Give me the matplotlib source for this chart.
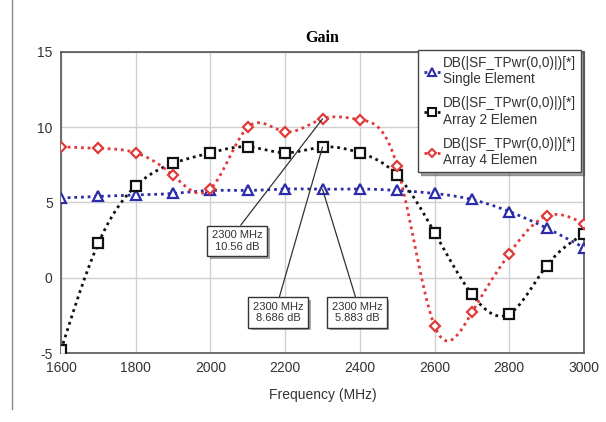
import numpy as np
import matplotlib
matplotlib.use("Agg")
import matplotlib.pyplot as plt
from matplotlib.lines import Line2D
import matplotlib.patheffects as pe

# --- data ---
freq = [1600, 1700, 1800, 1900, 2000, 2100, 2200, 2300, 2400, 2500, 2600, 2700, 2800, 2900, 3000]
single = [5.3, 5.4, 5.5, 5.6, 5.8, 5.8, 5.9, 5.883, 5.9, 5.8, 5.6, 5.2, 4.4, 3.3, 2.0]
array2 = [-4.8, 2.3, 6.1, 7.6, 8.3, 8.7, 8.3, 8.686, 8.3, 6.8, 3.0, -1.1, -2.4, 0.8, 2.9]
array4 = [8.7, 8.6, 8.3, 6.8, 5.9, 10.0, 9.7, 10.56, 10.5, 7.4, -3.2, -2.3, 1.6, 4.1, 3.6]
labels = ["DB(|SF_TPwr(0,0)|)[*]\nSingle Element",
          "DB(|SF_TPwr(0,0)|)[*]\nArray 2 Elemen",
          "DB(|SF_TPwr(0,0)|)[*]\nArray 4 Elemen"]
xticks = [1600, 1800, 2000, 2200, 2400, 2600, 2800, 3000]
yticks = [-5, 0, 5, 10, 15]


def spline(x, y, n=400):
    # natural cubic spline, just for drawing the smooth trace
    x = np.asarray(x, float)
    y = np.asarray(y, float)
    h = np.diff(x)
    m = len(x)
    A = np.zeros((m, m))
    b = np.zeros(m)
    A[0, 0] = A[-1, -1] = 1
    for i in range(1, m - 1):
        A[i, i - 1] = h[i - 1]
        A[i, i] = 2 * (h[i - 1] + h[i])
        A[i, i + 1] = h[i]
        b[i] = 6 * ((y[i + 1] - y[i]) / h[i] - (y[i] - y[i - 1]) / h[i - 1])
    M = np.linalg.solve(A, b)
    xs = np.linspace(x[0], x[-1], n)
    k = np.clip(np.searchsorted(x, xs) - 1, 0, m - 2)
    t1 = x[k + 1] - xs
    t0 = xs - x[k]
    hk = h[k]
    ys = (M[k] * t1 ** 3 + M[k + 1] * t0 ** 3) / (6 * hk) \
        + (y[k] / hk - M[k] * hk / 6) * t1 + (y[k + 1] / hk - M[k + 1] * hk / 6) * t0
    return xs, ys


plt.rcParams['font.family'] = ['Liberation Sans', 'DejaVu Sans']
plt.rcParams['axes.unicode_minus'] = False

fig = plt.figure(figsize=(6.06, 4.22), dpi=100)
ax = fig.add_axes([0.1007, 0.1635, 0.863, 0.7133])

styles = [
    dict(color='#2c2ca8', marker='^', ms=6.5),
    dict(color='#111111', marker='s', ms=7),
    dict(color='#e03a3a', marker='D', ms=5.5),
]

handles = []
for ys_, st, lab in zip([single, array2, array4], styles, labels):
    sx, sy = spline(freq, ys_)
    ax.plot(sx, sy, ls=(0, (1.0, 1.4)), lw=2, color=st['color'], zorder=3)
    ax.plot(freq, ys_, ls='none', marker=st['marker'], ms=st['ms'], mfc='white',
            mec=st['color'], mew=1.6, zorder=4)
    handles.append(Line2D([], [], ls=(0, (1.0, 1.4)), lw=2, color=st['color'],
                          marker=st['marker'], ms=st['ms'] - 1, mfc='white',
                          mec=st['color'], mew=1.5, label=lab))

ax.set_xlim(1600, 3000)
ax.set_ylim(-5, 15)
ax.set_xticks(xticks)
ax.set_yticks(yticks)
ax.tick_params(length=0, labelsize=10, pad=6, labelcolor='#333333')
ax.grid(True, color='#d0d0d0', lw=1)
ax.set_axisbelow(True)
for s in ax.spines.values():
    s.set_color('#555555')
    s.set_linewidth(1.2)

ax.set_title("Gain", family='Liberation Serif', weight='bold', fontsize=11.5, pad=7)
ax.set_xlabel("Frequency (MHz)", fontsize=10, labelpad=9, color='#333333')

leg = ax.legend(handles=handles, loc='upper right', bbox_to_anchor=(0.995, 1.005),
                fontsize=9.8, frameon=True, fancybox=False, shadow=True,
                handlelength=1.2, handletextpad=0.2, borderpad=0.4,
                labelspacing=0.75, borderaxespad=0)
leg.get_frame().set_edgecolor('#444444')
leg.get_frame().set_linewidth(1)
for t in leg.get_texts():
    t.set_color('#333333')

# marker readouts at 2300 MHz
vals = [array4[7], array2[7], single[7]]
boxpos = [(2071, 2.45), (2181, -2.3), (2392, -2.3)]
for v, (bx, by) in zip(vals, boxpos):
    ann = ax.annotate(f"2300 MHz\n{v:g} dB", xy=(2300, v), xytext=(bx, by),
                      fontsize=8, color='#333333', ha='center', va='center',
                      bbox=dict(boxstyle='square,pad=0.4', fc='white', ec='#333333', lw=1),
                      arrowprops=dict(arrowstyle='-', color='#333333', lw=0.9,
                                      relpos=(0.5, 1.0), shrinkA=0, shrinkB=0),
                      zorder=6)
    ann.get_bbox_patch().set_path_effects([pe.withSimplePatchShadow(offset=(2, -2), alpha=0.5)])

# thin frame line of the screenshot at left
fig.add_artist(Line2D([0.02, 0.02], [0.03, 1.0], color='#888888', lw=1))

fig.savefig("out.png", dpi=100)
